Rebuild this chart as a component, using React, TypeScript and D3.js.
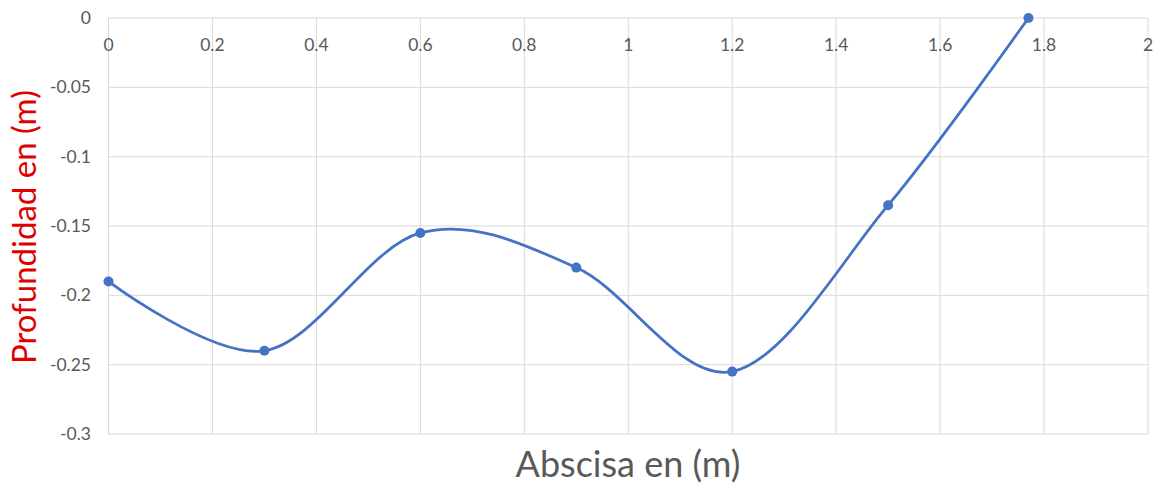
import React from "react";
import * as d3 from "d3";

const xValues = [0, 0.3, 0.6, 0.9, 1.2, 1.5, 1.77];
const yValues = [-0.19, -0.24, -0.155, -0.18, -0.255, -0.135, 0];
const xTicks = [0, 0.2, 0.4, 0.6, 0.8, 1, 1.2, 1.4, 1.6, 1.8, 2];
const yTicks = [0, -0.05, -0.1, -0.15, -0.2, -0.25, -0.3];

const W = 1158;
const H = 485;
const left = 108.5;
const right = 1148;
const top = 18;
const bottom = 434;

export default function App() {
  const x = d3.scaleLinear().domain([0, 2]).range([left, right]);
  const y = d3.scaleLinear().domain([-0.3, 0]).range([bottom, top]);
  const pts: [number, number][] = xValues.map((v, i) => [v, yValues[i]]);
  const line = d3
    .line<[number, number]>()
    .x((d) => x(d[0]))
    .y((d) => y(d[1]))
    .curve(d3.curveCardinal.tension(0));
  const font = "Lato, 'Open Sans', sans-serif";
  return (
    <svg
      width={W}
      height={H}
      style={{ position: "absolute", left: 0, top: 0, background: "#fff" }}
    >
      {yTicks.map((t) => (
        <line key={"gy" + t} x1={left} x2={right} y1={y(t)} y2={y(t)} stroke="#d9d9d9" strokeWidth={1} />
      ))}
      {xTicks.map((t) => (
        <line key={"gx" + t} x1={x(t)} x2={x(t)} y1={top} y2={bottom} stroke="#d9d9d9" strokeWidth={1} />
      ))}
      {yTicks.map((t) => (
        <text key={"ly" + t} x={91} y={y(t)} dy="0.35em" textAnchor="end" fontFamily={font} fontSize={17.5} fill="#595959">
          {t === 0 ? "0" : String(t)}
        </text>
      ))}
      {xTicks.map((t) => (
        <text key={"lx" + t} x={x(t)} y={45} dy="0.35em" textAnchor="middle" fontFamily={font} fontSize={17.5} fill="#595959">
          {String(t)}
        </text>
      ))}
      <path d={line(pts) || ""} fill="none" stroke="#4472c4" strokeWidth={2.75} />
      {pts.map((p, i) => (
        <circle key={"c" + i} cx={x(p[0])} cy={y(p[1])} r={5} fill="#4472c4" />
      ))}
      <text
        transform={`translate(24,227) rotate(-90)`}
        textAnchor="middle"
        dy="0.35em"
        fontFamily={font}
        fontSize={33}
        fill="#e00000"
      >
        Profundidad en (m)
      </text>
      <text x={628} y={464} dy="0.35em" textAnchor="middle" fontFamily={font} fontSize={36} fill="#595959">
        Abscisa en (m)
      </text>
    </svg>
  );
}
